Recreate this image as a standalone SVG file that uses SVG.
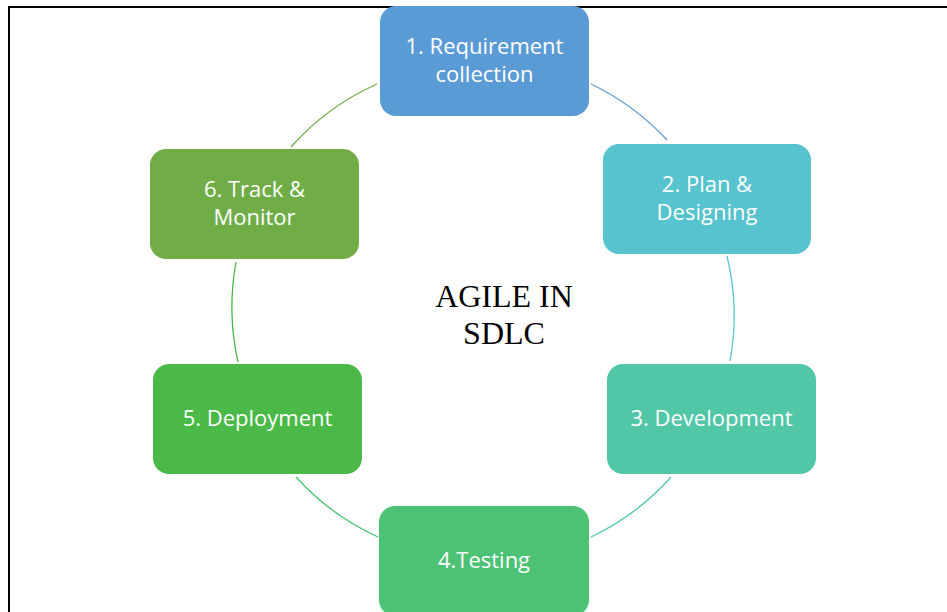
<svg xmlns="http://www.w3.org/2000/svg" width="947" height="612" viewBox="0 0 947 612">
  <style>
    .box { stroke: none; }
    .label { font-family: "Open Sans", "Noto Sans", sans-serif; font-size: 22px; fill: #ffffff; text-anchor: middle; }
    .title { font-family: "Liberation Serif", "Times New Roman", serif; font-size: 32px; fill: #000000; text-anchor: middle; }
    .arc { fill: none; stroke-width: 1.3; }
  </style>
  <rect width="947" height="612" fill="#ffffff"/>
  <!-- page frame, running off the right and bottom edges -->
  <rect x="9" y="7" width="960" height="640" fill="none" stroke="#000000" stroke-width="2"/>

  <!-- cycle arcs on a circle centred at (484,310), r ~251 -->
  <g id="connectors">
    <path class="arc" stroke="#5B9BD5" d="M591,84 A251,251 0 0 1 667,140"/>
    <path class="arc" stroke="#56C3CE" d="M727,256 A251,251 0 0 1 730,361"/>
    <path class="arc" stroke="#51C7A8" d="M671,477 A251,251 0 0 1 591,537"/>
    <path class="arc" stroke="#4DC275" d="M378,537 A251,251 0 0 1 296,477"/>
    <path class="arc" stroke="#4AB948" d="M238,362 A251,251 0 0 1 236,262"/>
    <path class="arc" stroke="#70AD47" d="M291,147 A251,251 0 0 1 377,84"/>
  </g>

  <text class="title" x="504" y="307">AGILE IN</text>
  <text class="title" x="504" y="344">SDLC</text>

  <g id="node1">
    <rect class="box" x="380" y="6" width="209" height="110" rx="16" fill="#5B9BD5"/>
    <text class="label" x="484.5" y="53.5">1. Requirement</text>
    <text class="label" x="484.5" y="82">collection</text>
  </g>
  <g id="node2">
    <rect class="box" x="603" y="144" width="208" height="110" rx="16" fill="#56C3CE"/>
    <text class="label" x="707" y="191.5">2. Plan &amp;</text>
    <text class="label" x="707" y="220">Designing</text>
  </g>
  <g id="node3">
    <rect class="box" x="607" y="364" width="209" height="110" rx="16" fill="#51C7A8"/>
    <text class="label" x="711.5" y="426">3. Development</text>
  </g>
  <g id="node4">
    <rect class="box" x="379" y="506" width="210" height="110" rx="16" fill="#4DC275"/>
    <text class="label" x="484" y="568">4.Testing</text>
  </g>
  <g id="node5">
    <rect class="box" x="153" y="364" width="209" height="110" rx="16" fill="#4AB948"/>
    <text class="label" x="257.5" y="426">5. Deployment</text>
  </g>
  <g id="node6">
    <rect class="box" x="150" y="149" width="209" height="110" rx="16" fill="#70AD47"/>
    <text class="label" x="254.5" y="196.5">6. Track &amp;</text>
    <text class="label" x="254.5" y="225">Monitor</text>
  </g>
</svg>
